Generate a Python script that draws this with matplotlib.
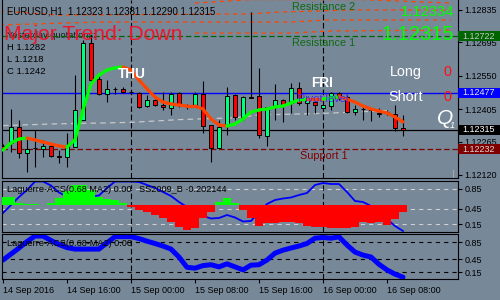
import numpy as np
import matplotlib.pyplot as plt
from matplotlib.collections import LineCollection
from matplotlib.patches import Rectangle

plt.rcParams['font.family'] = ['Liberation Sans', 'DejaVu Sans']
plt.rcParams['lines.scale_dashes'] = False

BG = '#778899'
W, H = 500, 300

# --- data (EURUSD H1, 14-16 Sep 2016) ---
time_labels = ['14 Sep 2016', '14 Sep 16:00', '15 Sep 00:00', '15 Sep 08:00',
               '15 Sep 16:00', '16 Sep 00:00', '16 Sep 08:00']
label_bars = [0, 8, 16, 24, 32, 40, 48]
day_breaks = [16, 40]

opens = [1.12246, 1.12259, 1.12328, 1.12215, 1.12237, 1.12233, 1.12246, 1.12202, 1.12198, 1.12241,
         1.12358, 1.12692, 1.12536, 1.12471, 1.12493, 1.12493, 1.12480, 1.12475, 1.12419, 1.12445,
         1.12423, 1.12410, 1.12475, 1.12419, 1.12423, 1.12471, 1.12337, 1.12237, 1.12332, 1.12467,
         1.12371, 1.12458, 1.12462, 1.12289, 1.12415, 1.12445, 1.12432, 1.12497, 1.12432, 1.12436,
         1.12410, 1.12419, 1.12475, 1.12458, 1.12393, 1.12406, 1.12405, 1.12389, 1.12393, 1.12384,
         1.12323]
highs = [1.12255, 1.12406, 1.12358, 1.12280, 1.12315, 1.12272, 1.12259, 1.12228, 1.12302, 1.12553,
         1.12705, 1.12727, 1.12553, 1.12532, 1.12501, 1.12501, 1.12490, 1.12480, 1.12467, 1.12449,
         1.12480, 1.12480, 1.12480, 1.12428, 1.12480, 1.12527, 1.12337, 1.12358, 1.12501, 1.12471,
         1.12462, 1.12826, 1.12584, 1.12415, 1.12514, 1.12449, 1.12519, 1.12523, 1.12458, 1.12445,
         1.12436, 1.12480, 1.12480, 1.12467, 1.12423, 1.12423, 1.12410, 1.12410, 1.12402, 1.12423,
         1.12381]
lows = [1.12228, 1.12220, 1.12194, 1.12133, 1.12155, 1.12198, 1.12198, 1.12172, 1.12155, 1.12241,
        1.12358, 1.12519, 1.12467, 1.12436, 1.12471, 1.12475, 1.12470, 1.12410, 1.12415, 1.12419,
        1.12402, 1.12380, 1.12415, 1.12406, 1.12415, 1.12302, 1.12176, 1.12237, 1.12293, 1.12358,
        1.12358, 1.12454, 1.12280, 1.12246, 1.12358, 1.12350, 1.12389, 1.12423, 1.12380, 1.12389,
        1.12402, 1.12402, 1.12445, 1.12389, 1.12380, 1.12358, 1.12354, 1.12371, 1.12380, 1.12311,
        1.12290]
closes = [1.12237, 1.12328, 1.12215, 1.12233, 1.12238, 1.12246, 1.12202, 1.12200, 1.12246, 1.12402,
          1.12692, 1.12532, 1.12471, 1.12493, 1.12492, 1.12480, 1.12478, 1.12415, 1.12445, 1.12423,
          1.12415, 1.12471, 1.12423, 1.12417, 1.12471, 1.12332, 1.12237, 1.12328, 1.12462, 1.12371,
          1.12458, 1.12455, 1.12293, 1.12415, 1.12445, 1.12423, 1.12497, 1.12432, 1.12449, 1.12423,
          1.12423, 1.12475, 1.12458, 1.12393, 1.12406, 1.12405, 1.12400, 1.12384, 1.12392, 1.12324,
          1.12315]

trend_ma = [1.12228, 1.12259, 1.12276, 1.12280, 1.12272, 1.12263, 1.12254, 1.12246, 1.12241, 1.12272,
            1.12402, 1.12514, 1.12553, 1.12575, 1.12584, 1.12588, 1.12575, 1.12532, 1.12493, 1.12458,
            1.12436, 1.12428, 1.12423, 1.12419, 1.12419, 1.12406, 1.12363, 1.12337, 1.12332, 1.12341,
            1.12363, 1.12393, 1.12402, 1.12406, 1.12415, 1.12419, 1.12432, 1.12445, 1.12449, 1.12449,
            1.12449, 1.12454, 1.12458, 1.12449, 1.12436, 1.12419, 1.12406, 1.12397, 1.12389, 1.12371,
            1.12350]

slow_ma_bars = [0, 6, 16, 22, 29, 32, 40, 48]
slow_ma = [1.12334, 1.12341, 1.12348, 1.12360, 1.12368, 1.12380, 1.12387, 1.12399]

env_bars = [[24, 31, 45, 56], [-0.4, 7.1, 30.9, 34.6, 43.4, 56], [-0.4, 12.1, 35.9, 40.9, 56],
            [24, 35.9, 40.9, 56]]
env_vals = [[1.12865, 1.12880, 1.12880, 1.12865],
            [1.12831, 1.12813, 1.12818, 1.12826, 1.12835, 1.12835],
            [1.12770, 1.12783, 1.12783, 1.12792, 1.12792],
            [1.12735, 1.12735, 1.12744, 1.12748]]

resistance1 = 1.12722
pivot = 1.12477
support1 = 1.12232
bid = 1.12315
price_ticks = [1.12835, 1.12695, 1.12550, 1.12405, 1.12265, 1.12120]

laguerre_a = [0.37, 0.53, 0.69, 0.83, 1.0, 1.0, 0.92, 0.78, 0.70, 0.70,
              0.70, 0.70, 0.72, 0.87, 1.0, 1.0, 1.0, 0.99, 0.93, 0.87,
              0.79, 0.71, 0.59, 0.49, 0.43, 0.31, 0.26, 0.27, 0.33, 0.28,
              0.20, 0.21, 0.39, 0.55, 0.63, 0.66, 0.68, 0.73, 0.77, 0.93,
              0.97, 0.95, 0.95, 0.79, 0.61, 0.59, 0.51, 0.41, 0.25, 0.11,
              0.01]
ss2009 = [0.23, 0.23, 0.06, 0.03, 0.03, 0.01, 0.06, 0.20, 0.40, 0.58,
          0.58, 0.43, 0.23, 0.17, 0.14, 0.06, -0.06, -0.14, -0.20, -0.29,
          -0.38, -0.49, -0.64, -0.72, -0.66, -0.38, -0.20, 0.09, 0.20, 0.06,
          -0.14, -0.38, -0.61, -0.52, -0.52, -0.49, -0.49, -0.52, -0.61, -0.64,
          -0.64, -0.66, -0.66, -0.66, -0.64, -0.49, -0.52, -0.49, -0.58, -0.40,
          -0.202144]
laguerre_b = [0.43, 0.57, 0.71, 0.86, 0.99, 0.99, 0.885, 0.79, 0.72, 0.685,
              0.685, 0.685, 0.685, 0.83, 0.975, 0.975, 0.975, 0.93, 0.87, 0.815,
              0.756, 0.685, 0.50, 0.26, 0.24, 0.30, 0.32, 0.27, 0.34, 0.27,
              0.20, 0.31, 0.32, 0.43, 0.59, 0.66, 0.71, 0.756, 0.815, 0.94,
              0.955, 0.94, 0.97, 0.78, 0.615, 0.545, 0.50, 0.33, 0.20, 0.10,
              0.03]
levels = [0.85, 0.45, 0.15]

# --- figure ---
fig = plt.figure(figsize=(W / 100, H / 100), dpi=100)
fig.patch.set_facecolor(BG)

ax = fig.add_axes([2 / W, 1 - 178 / H, 456 / W, 178 / H])
ax1 = fig.add_axes([2 / W, 1 - 232 / H, 456 / W, 51 / H])
ax2 = fig.add_axes([2 / W, 1 - 279 / H, 456 / W, 45 / H])
axh = ax1.twinx()
axh.axis('off')

xlim = (-0.125, 56.875)
for a in (ax, ax1, ax2):
    a.set_facecolor(BG)
    a.set_xlim(*xlim)
    for s in a.spines.values():
        s.set_color('black')
        s.set_linewidth(0.8)
    a.yaxis.tick_right()
    a.tick_params(axis='y', length=3, width=0.8, pad=1.5, labelsize=6.5, colors='black')
    for b in day_breaks:
        a.axvline(b, color='black', lw=0.8, ls=(0, (4, 2)), zorder=1)
ax.spines['top'].set_visible(False)
axh.set_xlim(*xlim)

# main chart
ax.set_ylim(1.12107, 1.128783)
ax.set_yticks(price_ticks)
ax.set_yticklabels(['%.5f' % p for p in price_ticks])
ax.set_xticks([])
ax1.set_xticks([])

for bx, bv in zip(env_bars, env_vals):
    ax.plot(bx, bv, color='#FF4500', lw=0.9, ls=(0, (3, 3)), zorder=1)
ax.plot(slow_ma_bars, slow_ma, color='#C8C8C8', lw=0.9, ls=(0, (4, 3)), zorder=1)
ax.axhline(resistance1, color='#006400', lw=0.9, ls=(0, (4, 2)), zorder=2)
ax.axhline(support1, color='#800000', lw=0.9, ls=(0, (4, 2)), zorder=2)
ax.axhline(pivot, color='#0000FF', lw=1.0, zorder=2)
ax.axhline(bid, color='black', lw=0.9, zorder=2)
ax.plot([56.25, 56.25], [1.12111, 1.12142], color='#A9A9A9', lw=0.8)

xs = np.arange(len(opens))
o = np.array(opens)
c = np.array(closes)
ax.vlines(xs, lows, highs, color='black', lw=0.8, zorder=3)
ax.bar(xs, c - o, bottom=o, width=0.58,
       color=np.where(c >= o, '#00FF7F', '#FF0000'),
       edgecolor='black', linewidth=0.7, zorder=4)

ma = np.array(trend_ma)
segs = [[(xs[i], ma[i]), (xs[i + 1], ma[i + 1])] for i in range(len(ma) - 1)]
cols = ['#00FF00' if ma[i + 1] > ma[i] else '#FF4500' for i in range(len(ma) - 1)]
ax.add_collection(LineCollection(segs, colors=cols, linewidths=2.3, capstyle='round', zorder=5))


def put(x, y, s, z=6, **kw):
    ax.text(x / W, 1 - y / H, s, transform=fig.transFigure, va='center', zorder=z, **kw)


put(7, 11, 'EURUSD,H1  1.12323 1.12381 1.12290 1.12315', fontsize=6.9, color='black')
put(7, 35, 'Yesterday quotations:', z=1, fontsize=6.6, color='#1a1a1a')
put(7, 47, 'H 1.1282', fontsize=6.8, color='black')
put(7, 59, 'L 1.1218', fontsize=6.8, color='black')
put(7, 71, 'C 1.1242', fontsize=6.8, color='black')
put(4, 35, 'Major Trend: Down', fontsize=15.2, color='#F0142D')
put(118, 74, 'THU', fontsize=9.8, fontweight='bold', color='white')
put(311, 83, 'FRI', fontsize=9.8, fontweight='bold', color='white')
put(292, 7, 'Resistance 2', fontsize=7.8, color='#0F6A0F')
put(292, 43, 'Resistance 1', fontsize=7.8, color='#0F6A0F')
put(298, 99, 'Pivot level', z=6, fontsize=7.8, color='#4A2AF0')
put(300, 156, 'Support 1', fontsize=7.8, color='#800000')
put(454, 12.5, '1.12334', fontsize=10.6, color='#00FF00', ha='right')
put(454, 34.5, '1.12315', fontsize=14.5, color='#00FF00', ha='right')
put(390, 72, 'Long', fontsize=10.4, color='white')
put(388, 97, 'Short', fontsize=10.4, color='white')
put(444, 72, '0', fontsize=10.4, color='#FF1010')
put(444, 97, '0', fontsize=10.4, color='#FF1010')
put(437, 118, 'Q', fontsize=15, color='white', style='italic')
put(450, 125, '1', fontsize=6.5, color='white', style='italic')

# price boxes on the right axis
box_h = 10 * (1.128783 - 1.12107) / 178
tr = ax.get_yaxis_transform()
for price, fc, tc in [(resistance1, '#006400', '#C8C8C8'), (pivot, '#0000FF', '#E6E6E6'),
                      (bid, '#000000', '#FFFFFF'), (support1, '#800000', '#D8D8D8')]:
    ax.add_patch(Rectangle((1.0, price - box_h / 2), 42 / 456, box_h, transform=tr,
                           facecolor=fc, edgecolor='none', clip_on=False, zorder=7))
    ax.text(1 + 4 / 456, price, '%.5f' % price, transform=tr, va='center', ha='left',
            fontsize=6.5, color=tc, zorder=8)

# indicator window 1
ax1.set_ylim(-0.01, 1.01)
ax1.set_yticks(levels)
ax1.set_yticklabels(['%.2f' % v for v in levels])
ax1.yaxis.tick_right()
for lv in levels:
    ax1.axhline(lv, color='#D0D0D0', lw=0.8, ls=(0, (3, 3)), zorder=1)
ax1.plot(xs, laguerre_a, color='#0000FF', lw=1.3, zorder=2)
axh.set_ylim(-0.780, 0.694)
hv = np.array(ss2009)
axh.bar(xs, hv, width=0.92, color=np.where(hv >= 0, '#00FF00', '#FF0000'), zorder=3)
axh.text(7 / W, 1 - 190 / H, 'Laguerre-ACS(0.68 MA2) 0.00   SS2009_B -0.202144',
         transform=fig.transFigure, va='center', fontsize=6.6, color='black', zorder=4)

# indicator window 2
ax2.set_ylim(-0.013, 1.037)
ax2.set_yticks(levels)
ax2.set_yticklabels(['%.2f' % v for v in levels])
for lv in levels:
    ax2.axhline(lv, color='black', lw=0.8, ls=(0, (3, 3)), zorder=1)
ax2.plot(xs, laguerre_b, color='#0000FF', lw=3.6, zorder=2, solid_capstyle='round')
ax2.text(7 / W, 1 - 244 / H, 'Laguerre-ACS(0.68-MA2) 0.00', transform=fig.transFigure,
         va='center', fontsize=6.6, color='black', zorder=4)
ax2.set_xticks(label_bars)
ax2.set_xticklabels(time_labels, ha='left', fontsize=6.5)
ax2.tick_params(axis='x', length=3, width=0.8, pad=2, colors='black')

fig.savefig('out.png', dpi=100, facecolor=BG)
